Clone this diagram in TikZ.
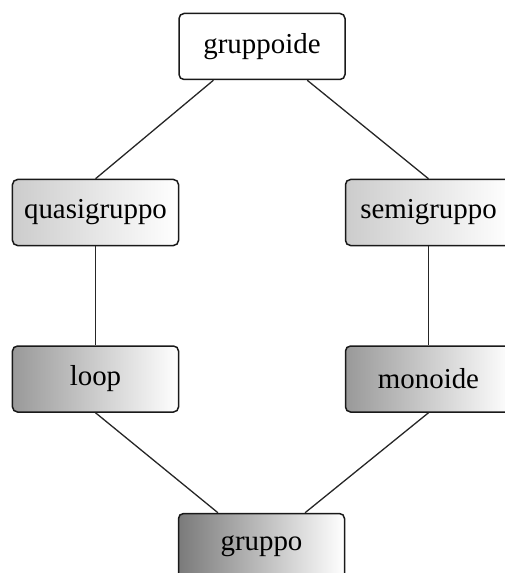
\documentclass[tikz,border=0pt]{standalone}
\usepackage{fontspec}
\setmainfont{Liberation Serif}
\usetikzlibrary{calc}
\begin{document}
\begin{tikzpicture}[x=1bp,y=-1bp,
  box/.style={draw=black!90, line width=1.5bp, rounded corners=5bp, minimum width=166bp, minimum height=66bp, inner sep=0pt, font=\fontsize{29}{32}\selectfont},
  lvlA/.style={box, fill=white},
  lvlB/.style={box, left color=black!20, right color=white},
  lvlC/.style={box, left color=black!40, right color=white},
  lvlD/.style={box, left color=black!52, right color=white},
  conn/.style={draw=black!85, line width=1.3bp}]
\useasboundingbox (0,0) rectangle (505,573);
\node[lvlA] (gp) at (262,46.5) {gruppoide};
\node[lvlB] (qg) at (95.5,212.5) {quasigruppo};
\node[lvlB] (sg) at (428.5,212.5) {semigruppo};
\node[lvlC] (lp) at (95.5,379) {loop};
\node[lvlC] (mo) at (428.5,379) {monoide};
\node[lvlD] (gr) at (261.5,546.5) {gruppo};
\coordinate (gpL) at ($(gp.south west)!0.21!(gp.south east)$);
\coordinate (gpR) at ($(gp.south west)!0.77!(gp.south east)$);
\coordinate (grL) at ($(gr.north west)!0.24!(gr.north east)$);
\coordinate (grR) at ($(gr.north west)!0.76!(gr.north east)$);
\draw[conn] (gpL) -- (qg.north);
\draw[conn] (gpR) -- (sg.north);
\draw[conn] (qg.south) -- (lp.north);
\draw[conn] (sg.south) -- (mo.north);
\draw[conn] (lp.south) -- (grL);
\draw[conn] (mo.south) -- (grR);
\end{tikzpicture}
\end{document}
